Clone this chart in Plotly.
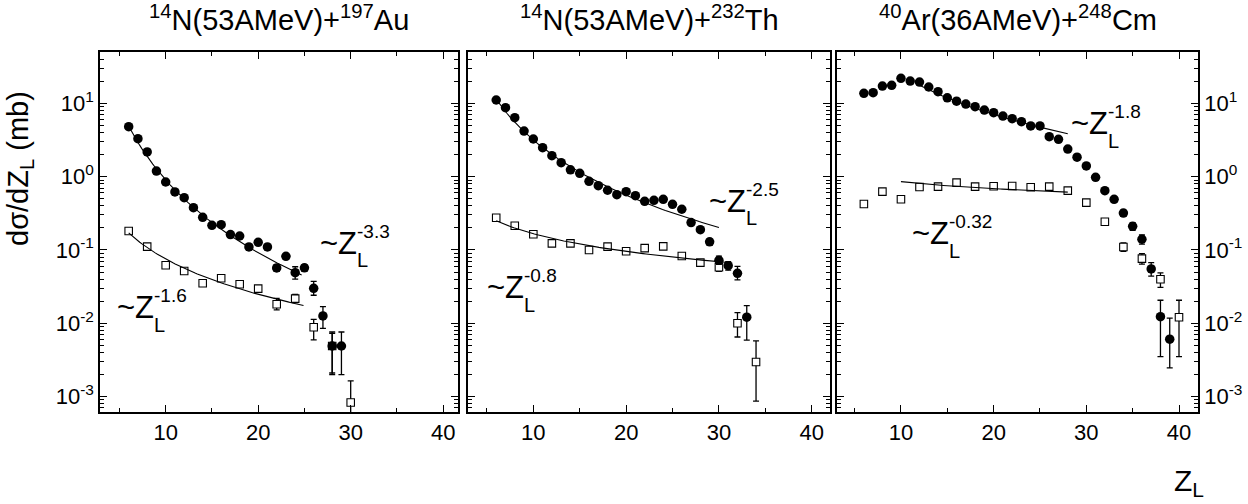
import numpy as np
import plotly.graph_objects as go

# ---------------- 14N(53 AMeV) + 197Au ----------------
au_z_full = [6, 7, 8, 9, 10, 11, 12, 13, 14, 15, 16, 17, 18, 19, 20, 21, 22, 23, 24, 25, 26, 27, 28, 29]
au_sig_full = [4.8, 3.29, 2.17, 1.19, 0.845, 0.618, 0.517, 0.377, 0.279, 0.217, 0.221, 0.162,
               0.155, 0.110, 0.127, 0.110, 0.0569, 0.082, 0.049, 0.057, 0.030, 0.0126, 0.0049, 0.0049]
au_err_up_full = [0, 0, 0, 0, 0, 0, 0, 0, 0, 0, 0, 0, 0, 0, 0, 0,
                  0.006, 0, 0.010, 0.006, 0.0074, 0.0043, 0.0027, 0.0027]
au_err_dn_full = [0, 0, 0, 0, 0, 0, 0, 0, 0, 0, 0, 0, 0, 0, 0, 0,
                  0.006, 0, 0.009, 0.005, 0.0059, 0.0041, 0.0029, 0.0029]

au_z_open = [6, 8, 10, 12, 14, 16, 18, 20, 22, 24, 26, 28, 30]
au_sig_open = [0.1815, 0.111, 0.0618, 0.0517, 0.0351, 0.0411, 0.034, 0.0297, 0.0182, 0.0217,
               0.00883, 0.0049, 0.00083]
au_err_up_open = [0, 0, 0, 0, 0, 0, 0, 0.003, 0.0037, 0.003, 0.0025, 0.0024, 0.00081]
au_err_dn_open = [0, 0, 0, 0, 0, 0, 0, 0.003, 0.003, 0.0026, 0.0029, 0.0028, 0.00079]

# ---------------- 14N(53 AMeV) + 232Th ----------------
th_z_full = [6, 7, 8, 9, 10, 11, 12, 13, 14, 15, 16, 17, 18, 19, 20, 21, 22, 23, 24, 25, 26, 27,
             28, 29, 30, 31, 32, 33]
th_sig_full = [11.1, 8.71, 6.37, 4.19, 3.26, 2.48, 1.93, 1.55, 1.24, 1.11, 0.863, 0.753, 0.652,
               0.568, 0.624, 0.55, 0.461, 0.476, 0.491, 0.42, 0.359, 0.236, 0.189, 0.129, 0.0724,
               0.0611, 0.0481, 0.0121]
th_err_up_full = [0, 0, 0, 0, 0, 0, 0, 0, 0, 0, 0, 0, 0, 0, 0, 0, 0, 0, 0, 0, 0, 0, 0,
                  0.012, 0.010, 0.008, 0.0115, 0.0053]
th_err_dn_full = [0, 0, 0, 0, 0, 0, 0, 0, 0, 0, 0, 0, 0, 0, 0, 0, 0, 0, 0, 0, 0, 0, 0,
                  0.011, 0.009, 0.008, 0.009, 0.0062]

th_z_open = [6, 8, 10, 12, 14, 16, 18, 20, 22, 24, 26, 28, 30, 32, 34]
th_sig_open = [0.275, 0.214, 0.164, 0.123, 0.123, 0.100, 0.111, 0.096, 0.106, 0.112, 0.0828,
               0.0671, 0.058, 0.0100, 0.00297]
th_err_up_open = [0, 0, 0, 0, 0, 0, 0, 0, 0, 0, 0, 0.004, 0.008, 0.0040, 0.0028]
th_err_dn_open = [0, 0, 0, 0, 0, 0, 0, 0, 0, 0, 0, 0.004, 0.007, 0.0035, 0.0021]

# ---------------- 40Ar(36 AMeV) + 248Cm ----------------
cm_z_full = [6, 7, 8, 9, 10, 11, 12, 13, 14, 15, 16, 17, 18, 19, 20, 21, 22, 23, 24, 25, 26, 27,
             28, 29, 30, 31, 32, 33, 34, 35, 36, 37, 38, 39]
cm_sig_full = [13.7, 13.95, 17.2, 17.6, 21.9, 20.1, 19.5, 16.7, 14.4, 11.9, 10.7, 9.78, 8.99, 8.1,
               7.45, 6.71, 6.17, 5.61, 4.91, 4.91, 3.51, 3.23, 2.38, 1.84, 1.40, 0.98, 0.644,
               0.491, 0.319, 0.21, 0.14, 0.0551, 0.0123, 0.00607]
cm_err_up_full = [0, 0, 0, 0, 0, 0, 0, 0, 0, 0, 0, 0, 0, 0, 0, 0, 0, 0, 0, 0, 0, 0, 0, 0, 0, 0, 0,
                  0.04, 0.03, 0.025, 0.02, 0.012, 0.0083, 0.0057]
cm_err_dn_full = [0, 0, 0, 0, 0, 0, 0, 0, 0, 0, 0, 0, 0, 0, 0, 0, 0, 0, 0, 0, 0, 0, 0, 0, 0, 0, 0,
                  0.04, 0.03, 0.025, 0.02, 0.011, 0.0088, 0.0036]

cm_z_open = [6, 8, 10, 12, 14, 16, 18, 20, 22, 24, 26, 28, 30, 32, 34, 36, 38, 40]
cm_sig_open = [0.424, 0.624, 0.491, 0.723, 0.73, 0.828, 0.73, 0.74, 0.745, 0.716, 0.73, 0.644,
               0.442, 0.243, 0.110, 0.0762, 0.0398, 0.0121]
cm_err_up_open = [0, 0, 0, 0, 0, 0, 0, 0, 0, 0, 0, 0, 0, 0, 0.015, 0.013, 0.009, 0.0085]
cm_err_dn_open = [0, 0, 0, 0, 0, 0, 0, 0, 0, 0, 0, 0, 0, 0, 0.014, 0.012, 0.009, 0.0086]

# Power-law fits  sigma = norm * Z^exponent, drawn over [z_from, z_to]
fit_exponent = {"au_full": -3.3, "au_open": -1.6, "th_full": -2.5,
                "th_open": -0.8, "cm_full": -1.8, "cm_open": -0.32}
fit_norm = {"au_full": 1800.0, "au_open": 3.0, "th_full": 1000.0,
            "th_open": 1.05, "cm_full": 1550.0, "cm_open": 1.786}
fit_span = {"au_full": (6, 24.7), "au_open": (6, 24.9), "th_full": (6, 30),
            "th_open": (6, 31), "cm_full": (12, 28), "cm_open": (10, 28)}

panel_titles = ["<sup>14</sup>N(53AMeV)+<sup>197</sup>Au",
                "<sup>14</sup>N(53AMeV)+<sup>232</sup>Th",
                "<sup>40</sup>Ar(36AMeV)+<sup>248</sup>Cm"]

FONT = "Liberation Sans, Arial, sans-serif"
W, H = 1248, 504

fig = go.Figure()


def add_points(z, sig, up, dn, ax, filled):
    fig.add_trace(go.Scatter(
        x=z, y=sig, mode="markers", xaxis="x" + ax, yaxis="y" + ax, showlegend=False,
        marker=dict(symbol="circle" if filled else "square",
                    size=9.5 if filled else 7.5,
                    color="black" if filled else "white",
                    line=dict(color="black", width=0 if filled else 1.1)),
        error_y=dict(type="data", symmetric=False, array=up, arrayminus=dn,
                     color="black", thickness=1.3, width=3),
    ))


def add_fit(key, ax):
    z0, z1 = fit_span[key]
    zz = np.linspace(z0, z1, 80)
    fig.add_trace(go.Scatter(
        x=zz, y=fit_norm[key] * zz ** fit_exponent[key], mode="lines",
        xaxis="x" + ax, yaxis="y" + ax, showlegend=False,
        line=dict(color="black", width=1.1),
    ))


# panel 1
add_points(au_z_open, au_sig_open, au_err_up_open, au_err_dn_open, "", False)
add_points(au_z_full, au_sig_full, au_err_up_full, au_err_dn_full, "", True)
add_fit("au_full", "")
add_fit("au_open", "")
# panel 2
add_points(th_z_open, th_sig_open, th_err_up_open, th_err_dn_open, "2", False)
add_points(th_z_full, th_sig_full, th_err_up_full, th_err_dn_full, "2", True)
add_fit("th_full", "2")
add_fit("th_open", "2")
# panel 3
add_points(cm_z_open, cm_sig_open, cm_err_up_open, cm_err_dn_open, "3", False)
add_points(cm_z_full, cm_sig_full, cm_err_up_full, cm_err_dn_full, "3", True)
add_fit("cm_full", "3")
add_fit("cm_open", "3")

# ---------------- axes ----------------
major_y = [1e-3, 1e-2, 1e-1, 1e0, 1e1]
major_y_text = ["10<sup>-3</sup>", "10<sup>-2</sup>", "10<sup>-1</sup>", "10<sup>0</sup>", "10<sup>1</sup>"]
minor_y = [m * 10.0 ** e for e in range(-4, 2) for m in range(2, 10)]

x_domains = [(100, 458), (468, 830), (837, 1198)]
x_ranges = [(2.9, 41.6), (2.96, 41.97), (3.1, 42.05)]
y_dom = (1 - 412 / H, 1 - 52 / H)

common = dict(showline=True, linecolor="black", linewidth=1.5, mirror="allticks",
              ticks="inside", tickcolor="black", tickwidth=1.2, showgrid=False,
              zeroline=False, tickfont=dict(family=FONT, size=22, color="black"))

for i in range(3):
    sfx = "" if i == 0 else str(i + 1)
    xd = x_domains[i]
    fig.layout["xaxis" + sfx] = dict(
        common, domain=[xd[0] / W, xd[1] / W], range=list(x_ranges[i]),
        anchor="y" + sfx, tickmode="array", tickvals=[10, 20, 30, 40], ticklen=7,
        minor=dict(tickmode="array", tickvals=[5, 15, 25, 35], ticks="inside",
                   ticklen=4, tickcolor="black", tickwidth=1.2),
    )
    fig.layout["yaxis" + sfx] = dict(
        common, type="log", domain=list(y_dom), range=[-3.21, 1.70],
        anchor="x" + sfx, tickmode="array", tickvals=major_y, ticktext=major_y_text,
        ticklen=7, showticklabels=(i != 1), side="right" if i == 2 else "left",
        minor=dict(tickmode="array", tickvals=minor_y, ticks="inside",
                   ticklen=4, tickcolor="black", tickwidth=1),
    )

# ---------------- text ----------------
ann = []
for i, t in enumerate(panel_titles):
    xd = x_domains[i]
    ann.append(dict(text=t, xref="paper", yref="paper", x=(xd[0] + xd[1]) / 2 / W,
                    y=1 - 18 / H, xanchor="center", yanchor="middle", showarrow=False,
                    font=dict(family=FONT, size=29, color="black")))

# power-law labels: (axis suffix, Z of label start, log10 sigma of label centre, exponent text)
power_labels = [("", 4.52, -1.79, "-1.6"), ("", 26.46, -0.911, "-3.3"),
                ("2", 4.8, -1.514, "-0.8"), ("2", 28.69, -0.336, "-2.5"),
                ("3", 10.96, -0.782, "-0.32"), ("3", 28.11, 0.718, "-1.8")]
for sfx, zx, ly, ex in power_labels:
    base = dict(xref="x" + sfx, yref="y" + sfx, x=zx, y=ly, xanchor="left",
                yanchor="middle", showarrow=False)
    ann.append(dict(base, text="~Z", font=dict(family=FONT, size=31, color="black")))
    ann.append(dict(base, text=ex, xshift=37, yshift=12,
                    font=dict(family=FONT, size=19, color="black")))
    ann.append(dict(base, text="L", xshift=37, yshift=-17,
                    font=dict(family=FONT, size=20, color="black")))

ann.append(dict(text="dσ/dZ<sub>L</sub> (mb)", xref="paper", yref="paper", x=20 / W,
                y=1 - 169 / H, xanchor="center", yanchor="middle", textangle=-90,
                showarrow=False, font=dict(family=FONT, size=29, color="black")))
ann.append(dict(text="Z<sub>L</sub>", xref="paper", yref="paper", x=1172 / W,
                y=1 - 482 / H, xanchor="left", yanchor="middle", showarrow=False,
                font=dict(family=FONT, size=30, color="black")))

fig.update_layout(width=W, height=H, margin=dict(l=0, r=0, t=0, b=0),
                  paper_bgcolor="white", plot_bgcolor="white", annotations=ann,
                  font=dict(family=FONT, color="black"))

fig.write_html("out.html")
